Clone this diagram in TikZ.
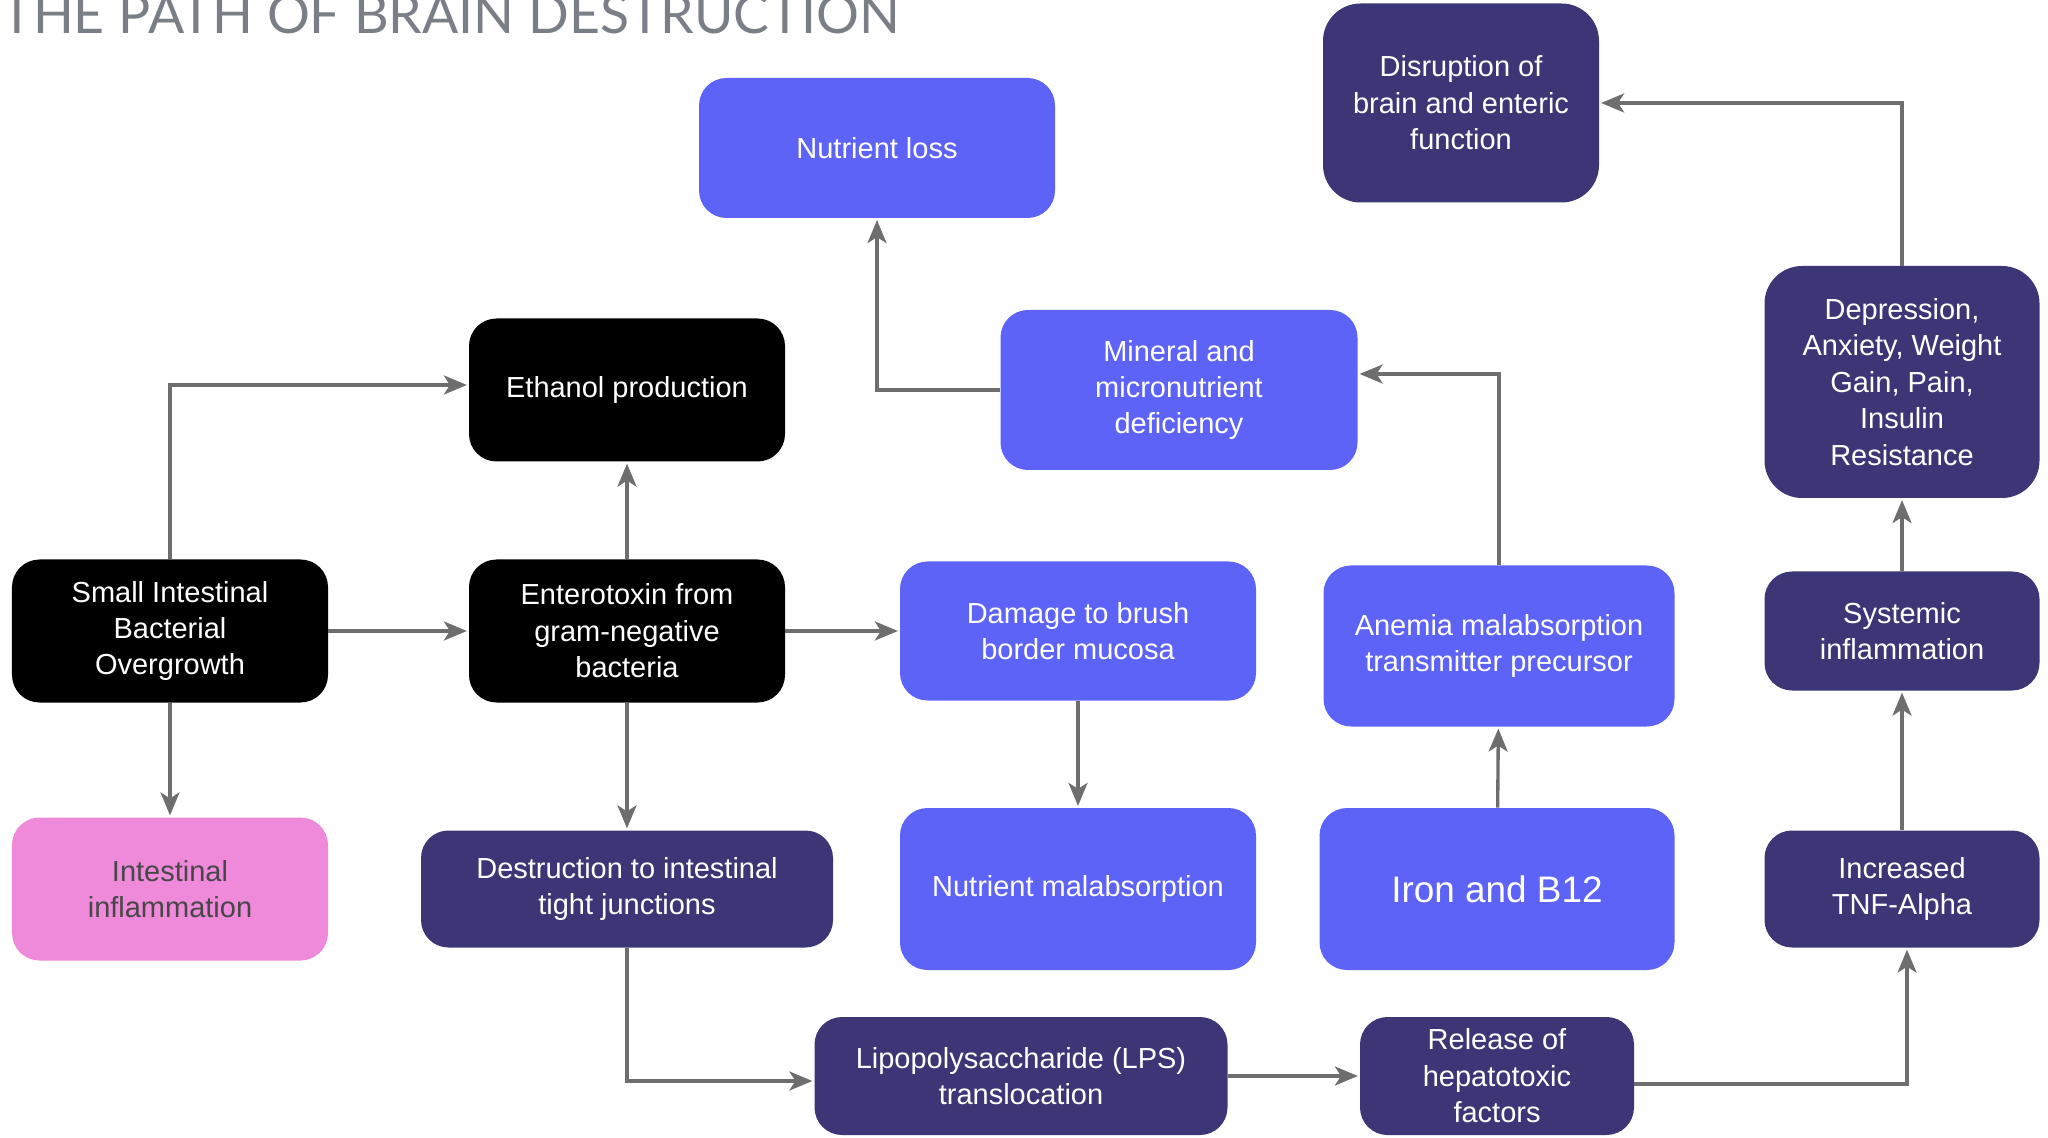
\documentclass[tikz,border=0pt]{standalone}
\usepackage{fontspec}
\setmainfont{Liberation Sans}
\newfontfamily\titlefont{Lato}
\usepackage{tikz}
\usetikzlibrary{positioning, calc, arrows.meta}
\definecolor{boxblue}{HTML}{5E63F8}
\definecolor{boxnavy}{HTML}{3C3677}
\definecolor{boxpink}{HTML}{EF89DA}
\definecolor{pinktext}{HTML}{474747}
\definecolor{arrowgray}{HTML}{6E6E6E}
\definecolor{titlegray}{HTML}{7A7E87}

\begin{document}
\begin{tikzpicture}[
		box/.style = {rectangle, rounded corners=0.55cm, text=white, align=center, inner sep=2pt, font=\fontsize{16.5}{20.7}\selectfont},
		blackbox/.style = {box, fill=black, minimum width=6.32cm, minimum height=2.86cm},
		bluebox/.style = {box, fill=boxblue, minimum width=7.12cm},
		navybox/.style = {box, fill=boxnavy},
		link/.style = {draw=arrowgray, line width=1.9pt, -{Stealth[length=0.46cm, width=0.38cm, inset=0.12cm]}, shorten >=1pt}
	]
	\useasboundingbox (0,0) rectangle (40.96,-22.76);
	\node[anchor=base west, inner sep=0pt, text=titlegray, font=\titlefont\fontsize{30.5}{30.5}\selectfont] (title) at (0.02,-0.68) {THE PATH OF BRAIN DESTRUCTION};

	\node[blackbox] (sibo) at (3.40,-12.62) {Small Intestinal\\Bacterial\\Overgrowth};
	\node[blackbox] (entero) at (12.54,-12.62) {Enterotoxin from\\gram-negative\\bacteria};
	\node[blackbox] (ethanol) at (12.54,-7.80) {Ethanol production};
	\node[box, fill=boxpink, text=pinktext, minimum width=6.32cm, minimum height=2.86cm] (inflam) at (3.40,-17.78) {Intestinal\\inflammation};
	\node[navybox, minimum width=8.24cm, minimum height=2.34cm] (destr) at (12.54,-17.78) {Destruction to intestinal\\tight junctions};
	\node[bluebox, minimum height=2.78cm] (damage) at (21.56,-12.62) {Damage to brush\\border mucosa};
	\node[bluebox, minimum height=3.24cm] (malabs) at (21.56,-17.78) {Nutrient malabsorption};
	\node[bluebox, minimum height=2.80cm] (nutloss) at (17.54,-2.96) {Nutrient loss};
	\node[bluebox, minimum width=7.14cm, minimum height=3.20cm] (mineral) at (23.58,-7.80) {Mineral and\\micronutrient\\deficiency};
	\node[bluebox, minimum width=7.02cm, minimum height=3.22cm] (anemia) at (29.98,-12.92) {Anemia malabsorption\\transmitter precursor};
	\node[bluebox, minimum width=7.10cm, minimum height=3.24cm, font=\fontsize{21}{25}\selectfont] (iron) at (29.94,-17.78) {Iron and B12};
	\node[navybox, rounded corners=0.75cm, minimum width=5.52cm, minimum height=3.98cm] (disrupt) at (29.22,-2.06) {Disruption of\\brain and enteric\\function};
	\node[navybox, rounded corners=0.75cm, minimum width=5.50cm, minimum height=4.64cm] (depress) at (38.04,-7.64) {Depression,\\Anxiety, Weight\\Gain, Pain,\\Insulin\\Resistance};
	\node[navybox, minimum width=5.50cm, minimum height=2.38cm] (systemic) at (38.04,-12.62) {Systemic\\inflammation};
	\node[navybox, minimum width=5.50cm, minimum height=2.34cm] (tnf) at (38.04,-17.78) {Increased\\TNF-Alpha};
	\node[navybox, minimum width=8.26cm, minimum height=2.36cm] (lps) at (20.42,-21.52) {Lipopolysaccharide (LPS)\\translocation};
	\node[navybox, minimum width=5.48cm, minimum height=2.36cm] (release) at (29.94,-21.52) {Release of\\hepatotoxic\\factors};

	\draw[link] (sibo.north) |- ([yshift=0.1cm]ethanol.west);
	\draw[link] (sibo) -- (entero);
	\draw[link] (sibo) -- (inflam);
	\draw[link] (entero) -- (ethanol);
	\draw[link] (entero) -- (destr);
	\draw[link] (entero) -- (damage);
	\draw[link] (damage) -- (malabs);
	\draw[link] (destr.south) |- ([yshift=-0.1cm]lps.west);
	\draw[link] (lps) -- (release);
	\draw[link] ([yshift=-0.16cm]release.east) -| ([xshift=0.1cm]tnf.south);
	\draw[link] (tnf) -- (systemic);
	\draw[link] (systemic) -- (depress);
	\draw[link] (depress.north) |- (disrupt.east);
	\draw[link] (iron) -- (anemia);
	\draw[link] (anemia.north) |- ([yshift=0.32cm]mineral.east);
	\draw[link] (mineral.west) -| (nutloss.south);
\end{tikzpicture}
\end{document}
